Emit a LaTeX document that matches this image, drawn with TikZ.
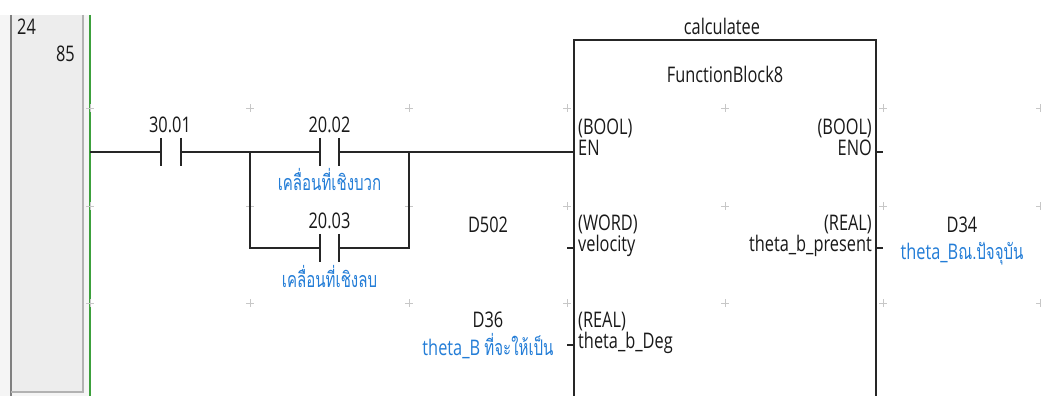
\documentclass[tikz,border=0pt]{standalone}
\usepackage{fontspec}
\setmainfont[FakeStretch=0.76]{Open Sans}
\newfontfamily\thaifont[Script=Thai,FakeStretch=0.7]{Loma}
\definecolor{tblue}{RGB}{35,125,215}
\definecolor{rgreen}{RGB}{60,160,60}
\begin{document}
\begin{tikzpicture}[x=1pt,y=-1pt,
  lbl/.style={font=\fontsize{21.5}{21.5}\selectfont, inner sep=0pt, text=black!90},
  blbl/.style={lbl, text=tblue},
  wire/.style={line width=1.4pt, draw=black!85},
  contact/.style={minimum width=19pt, minimum height=28pt, inner sep=0pt, draw=none},
  bar/.style={line width=1.8pt, draw=black!85},
  gridmark/.style={draw=black!22, line width=0.8pt}]

\useasboundingbox (0,0) rectangle (1041,396);
\fill[white] (0,0) rectangle (1041,396);
% left number panel
\fill[black!4] (0,15) rectangle (89,396);
\fill[black!7] (11,15) rectangle (83,392);
\draw[black!50, line width=2.2pt] (11,15) -- (11,396);
\draw[black!30, line width=1.8pt] (83,15) -- (83,392) -- (11,392);
\draw[rgreen, line width=1.5pt] (90,15) -- (90,396);
\node[lbl, anchor=base west] (rungno) at (17,35) {24};
\node[lbl, anchor=base east] (stepno) at (75,62) {85};

% grid marks
\foreach \gx in {90,250,409,567,725,883,1040}
  \foreach \gy in {108,206,303}
    \draw[gridmark] (\gx-4,\gy) -- (\gx+4,\gy) (\gx,\gy-4) -- (\gx,\gy+4);

% contacts
\coordinate (rail) at (90,152);
\node[contact] (c1) at (171,152) {};
\node[contact] (c2) at (329.5,152) {};
\node[contact] (c3) at (329.5,248) {};
\coordinate (bl) at (250,152);
\coordinate (br) at (409,152);
\coordinate (bl2) at (250,248);
\coordinate (br2) at (409,248);
\coordinate (en) at (574,152);

\draw[wire] (rail) -- (c1.west);
\draw[wire] (c1.east) -- (bl) -- (c2.west);
\draw[wire] (c2.east) -- (br) -- (en);
\draw[wire] (bl) -- (bl2) -- (c3.west);
\draw[wire] (c3.east) -- (br2) -- (br);
\foreach \c in {c1,c2,c3}
  \draw[bar] (\c.north west) -- (\c.south west) (\c.north east) -- (\c.south east);

\node[lbl, anchor=base] (l1) at (170,132) {30.01};
\node[lbl, anchor=base] (l2) at (329.5,132) {20.02};
\node[blbl, anchor=base] (t2) at (329.5,190) {\thaifont เคลื่อนที่เชิงบวก};
\node[lbl, anchor=base] (l3) at (329.5,228) {20.03};
\node[blbl, anchor=base] (t3) at (329.5,287) {\thaifont เคลื่อนที่เชิงลบ};

% function block
\node[lbl, anchor=base] (fbname) at (722,35) {calculatee};
\coordinate (fbtl) at (574,40);
\coordinate (fbtr) at (876,40);
\coordinate (fbbl) at (574,402);
\coordinate (fbbr) at (876,402);
\draw[line width=1.5pt, black!85] (fbbl) -- (fbtl) -- (fbtr) -- (fbbr);
\node[lbl, anchor=base] (fbtype) at (725,82) {FunctionBlock8};

\node[lbl, anchor=base west] (enT) at (578,134) {(BOOL)};
\node[lbl, anchor=base west] (enN) at (578,155) {EN};
\node[lbl, anchor=base west] (velT) at (578,230) {(WORD)};
\node[lbl, anchor=base west] (velN) at (578,251) {velocity};
\node[lbl, anchor=base west] (degT) at (578,327) {(REAL)};
\node[lbl, anchor=base west] (degN) at (578,348) {theta\_b\_Deg};
\node[lbl, anchor=base east] (enoT) at (872,134) {(BOOL)};
\node[lbl, anchor=base east] (enoN) at (872,155) {ENO};
\node[lbl, anchor=base east] (presT) at (872,230) {(REAL)};
\node[lbl, anchor=base east] (presN) at (872,251) {theta\_b\_present};

\coordinate (velpin) at (574,248);
\coordinate (velstub) at (567,248);
\coordinate (degpin) at (574,345);
\coordinate (degstub) at (567,345);
\coordinate (enopin) at (876,152);
\coordinate (enostub) at (883,152);
\coordinate (prespin) at (876,248);
\coordinate (presstub) at (883,248);
\draw[wire] (velstub) -- (velpin);
\draw[wire] (degstub) -- (degpin);
\draw[wire] (enopin) -- (enostub);
\draw[wire] (prespin) -- (presstub);

% operands
\node[lbl, anchor=base] (d502) at (488,232) {D502};
\node[lbl, anchor=base] (d34) at (962,232) {D34};
\node[blbl, anchor=base] (d34c) at (962,259) {theta\_B{\thaifont ณ.ปัจจุบัน}};
\node[lbl, anchor=base] (d36) at (488,327) {D36};
\node[blbl, anchor=base] (d36c) at (488,355) {theta\_B {\thaifont ที่จะให้เป็น}};
\end{tikzpicture}
\end{document}
